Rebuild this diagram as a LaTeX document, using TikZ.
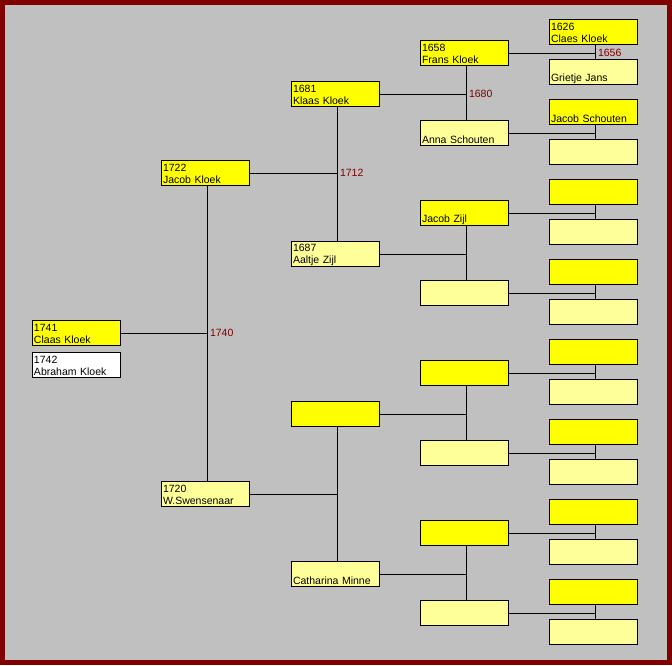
\documentclass[tikz,border=0pt]{standalone}
\usepackage{fontspec}
\setmainfont{Liberation Sans}
\usetikzlibrary{calc}
\definecolor{frame}{RGB}{128,0,0}
\definecolor{panel}{RGB}{192,192,192}
\definecolor{boxman}{RGB}{255,255,0}
\definecolor{boxwoman}{RGB}{255,255,153}
\definecolor{wedyear}{RGB}{128,0,0}

\begin{document}
\begin{tikzpicture}[x=1pt,y=-1pt,
  pers/.style={draw,line width=1pt,anchor=north west,minimum height=25pt,
    text width=85pt,inner xsep=1.5pt,inner ysep=0pt,align=left,
    font=\fontsize{10.5}{12}\selectfont,
    execute at begin node=\rule{0pt}{10pt},
    execute at end node=\rule[-1pt]{0pt}{1pt}},
  man/.style={pers,fill=boxman},
  woman/.style={pers,fill=boxwoman},
  sib/.style={pers,fill=white},
  wed/.style={anchor=west,inner sep=2pt,text=wedyear,font=\fontsize{10.5}{12}\selectfont},
  link/.style={line width=1pt}]
\useasboundingbox (0,0) rectangle (672,665);
\fill[frame] (0,0) rectangle (672,665);
\fill[panel] (5,5) rectangle (667,660);
% child and sibling
\node[man] (p1) at (32,320) {1741\\Claas Kloek};
\node[sib] (s1) at (32,352) {1742\\Abraham Kloek};
% parents
\node[man] (p2) at (161,160) {1722\\Jacob Kloek};
\node[woman] (p3) at (161,481) {1720\\W.Swensenaar};
% grandparents
\node[man] (p4) at (291,81) {1681\\Klaas Kloek};
\node[woman] (p5) at (291,241) {1687\\Aaltje Zijl};
\node[man] (p6) at (291,401) {};
\node[woman] (p7) at (291,561) {\\Catharina Minne};
% great-grandparents
\node[man] (p8) at (420,40) {1658\\Frans Kloek};
\node[woman] (p9) at (420,120) {\\Anna Schouten};
\node[man] (p10) at (420,200) {\\Jacob Zijl};
\node[woman] (p11) at (420,280) {};
\node[man] (p12) at (420,360) {};
\node[woman] (p13) at (420,440) {};
\node[man] (p14) at (420,520) {};
\node[woman] (p15) at (420,600) {};
% great-great-grandparents
\node[man] (p16) at (549,19) {1626\\Claes Kloek};
\node[woman] (p17) at (549,59) {\\Grietje Jans};
\node[man] (p18) at (549,99) {\\Jacob Schouten};
\node[woman] (p19) at (549,139) {};
\node[man] (p20) at (549,179) {};
\node[woman] (p21) at (549,219) {};
\node[man] (p22) at (549,259) {};
\node[woman] (p23) at (549,299) {};
\node[man] (p24) at (549,339) {};
\node[woman] (p25) at (549,379) {};
\node[man] (p26) at (549,419) {};
\node[woman] (p27) at (549,459) {};
\node[man] (p28) at (549,499) {};
\node[woman] (p29) at (549,539) {};
\node[man] (p30) at (549,579) {};
\node[woman] (p31) at (549,619) {};
% marriages
\draw[link] (p1.east) -- ($(p2.south |- p1.east)+(2,0)$) node[wed] {1740} ($(p2.south)+(2,0)$) -- ($(p3.north)+(2,0)$);
\draw[link] (p2.east) -- ($(p4.south |- p2.east)+(2,0)$) node[wed] {1712} ($(p4.south)+(2,0)$) -- ($(p5.north)+(2,0)$);
\draw[link] (p3.east) -- ($(p6.south |- p3.east)+(2,0)$) ($(p6.south)+(2,0)$) -- ($(p7.north)+(2,0)$);
\draw[link] (p4.east) -- ($(p8.south |- p4.east)+(2,0)$) node[wed] {1680} ($(p8.south)+(2,0)$) -- ($(p9.north)+(2,0)$);
\draw[link] (p5.east) -- ($(p10.south |- p5.east)+(2,0)$) ($(p10.south)+(2,0)$) -- ($(p11.north)+(2,0)$);
\draw[link] (p6.east) -- ($(p12.south |- p6.east)+(2,0)$) ($(p12.south)+(2,0)$) -- ($(p13.north)+(2,0)$);
\draw[link] (p7.east) -- ($(p14.south |- p7.east)+(2,0)$) ($(p14.south)+(2,0)$) -- ($(p15.north)+(2,0)$);
\draw[link] (p8.east) -- ($(p16.south |- p8.east)+(2,0)$) node[wed] {1656} ($(p16.south)+(2,0)$) -- ($(p17.north)+(2,0)$);
\draw[link] (p9.east) -- ($(p18.south |- p9.east)+(2,0)$) ($(p18.south)+(2,0)$) -- ($(p19.north)+(2,0)$);
\draw[link] (p10.east) -- ($(p20.south |- p10.east)+(2,0)$) ($(p20.south)+(2,0)$) -- ($(p21.north)+(2,0)$);
\draw[link] (p11.east) -- ($(p22.south |- p11.east)+(2,0)$) ($(p22.south)+(2,0)$) -- ($(p23.north)+(2,0)$);
\draw[link] (p12.east) -- ($(p24.south |- p12.east)+(2,0)$) ($(p24.south)+(2,0)$) -- ($(p25.north)+(2,0)$);
\draw[link] (p13.east) -- ($(p26.south |- p13.east)+(2,0)$) ($(p26.south)+(2,0)$) -- ($(p27.north)+(2,0)$);
\draw[link] (p14.east) -- ($(p28.south |- p14.east)+(2,0)$) ($(p28.south)+(2,0)$) -- ($(p29.north)+(2,0)$);
\draw[link] (p15.east) -- ($(p30.south |- p15.east)+(2,0)$) ($(p30.south)+(2,0)$) -- ($(p31.north)+(2,0)$);
\end{tikzpicture}
\end{document}
